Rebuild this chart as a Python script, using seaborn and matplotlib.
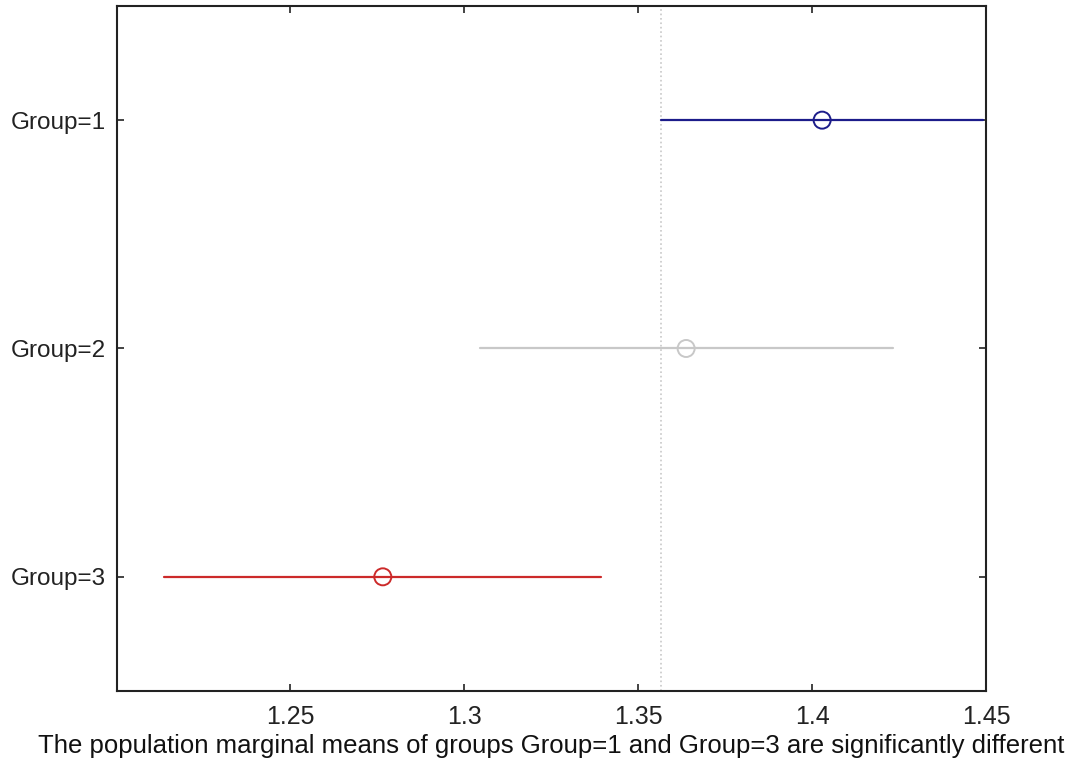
import pandas as pd
import matplotlib.pyplot as plt
import seaborn as sns

# values
groups = ['Group=1', 'Group=2', 'Group=3']
means = [1.4029, 1.3638, 1.2766]
lower = [1.3567, 1.3044, 1.2138]
upper = [1.4491, 1.4233, 1.3392]
colors = ['#1c1c8a', '#c8c8c8', '#cc2a2a']
ref_line = 1.3567
xticks = [1.25, 1.3, 1.35, 1.4, 1.45]
xlabel = 'The population marginal means of groups Group=1 and Group=3 are significantly different'

df = pd.DataFrame({'Group': groups, 'Mean': means, 'Lower': lower, 'Upper': upper})
palette = dict(zip(groups, colors))

sns.set_theme(style='white')
plt.rcParams['font.family'] = ['Liberation Sans', 'DejaVu Sans']

fig = plt.figure(figsize=(10.68, 7.67), dpi=100)
ax = fig.add_axes([0.1096, 0.0991, 0.8136, 0.8931])

# dotted reference line at lower bound of the selected group
ax.axvline(ref_line, color='#c8c8c8', linestyle=':', linewidth=1.2, zorder=1)

# comparison intervals
for _, row in df.iterrows():
    ax.plot([row['Lower'], row['Upper']], [row['Group'], row['Group']],
            color=palette[row['Group']], linewidth=1.6, zorder=2)

sns.scatterplot(data=df, x='Mean', y='Group', hue='Group', palette=palette,
                s=150, marker='o', linewidth=1.4, legend=False, ax=ax, zorder=3)
coll = ax.collections[-1]
coll.set_edgecolors(coll.get_facecolors())
coll.set_facecolor('none')

ax.set_xlim(1.2002, 1.45)
ax.set_ylim(2.5, -0.5)
ax.set_xticks(xticks)
ax.set_xticklabels([f'{t:g}' for t in xticks])
ax.set_ylabel('')
ax.set_xlabel(xlabel, fontsize=18.5, color='#111111', labelpad=4)

ax.tick_params(axis='both', direction='in', length=5, width=1.2,
               top=True, right=True, bottom=True, left=True,
               labelsize=18, labelcolor='#222222', colors='#222222')
ax.tick_params(axis='x', pad=10)
ax.tick_params(axis='y', pad=8, labelsize=17.5)
for s in ax.spines.values():
    s.set_color('#222222')
    s.set_linewidth(1.5)

fig.savefig('out.png', dpi=100)
